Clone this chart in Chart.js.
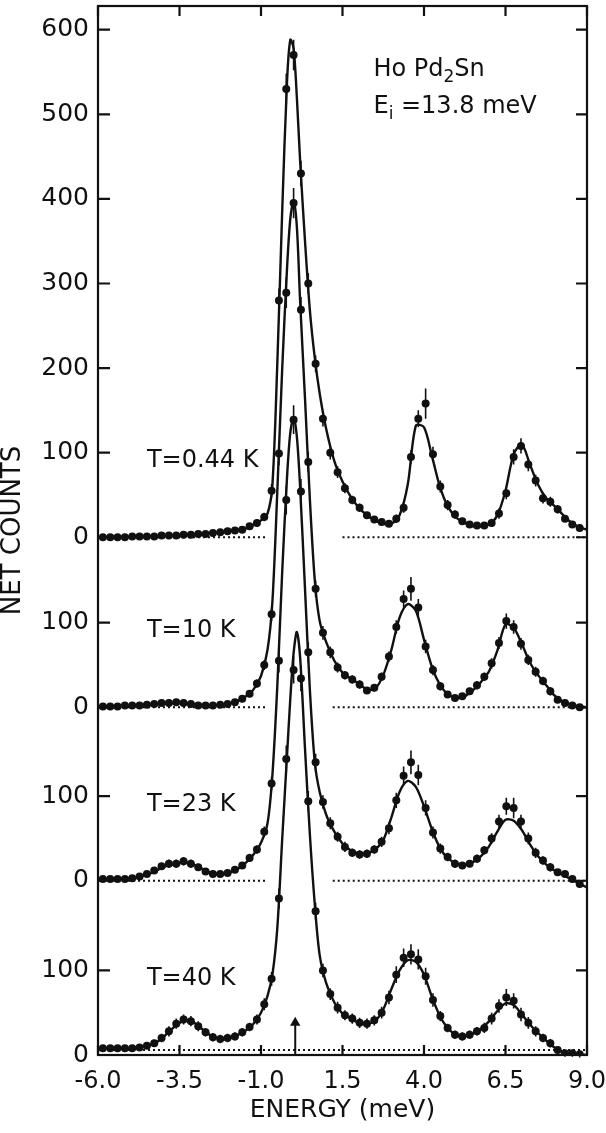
<!DOCTYPE html>
<html>
<head>
<meta charset="utf-8">
<script src="https://cdn.jsdelivr.net/npm/chart.js@4.4.1/dist/chart.umd.min.js"></script>
<style>
  html, body { margin: 0; padding: 0; background: #fff; }
  #wrap { width: 606px; height: 1133px; }
</style>
</head>
<body>
<div id="wrap"><canvas id="myChart" width="606" height="1133"></canvas></div>
<script>
// energy transfer of the measured points (meV), same for the four spectra
var energy = [-5.85,-5.625,-5.4,-5.175,-4.95,-4.725,-4.5,-4.275,-4.05,-3.825,
  -3.6,-3.375,-3.15,-2.925,-2.7,-2.475,-2.25,-2.025,-1.8,-1.575,
  -1.35,-1.125,-0.9,-0.675,-0.45,-0.225,0,0.225,0.45,0.675,
  0.9,1.125,1.35,1.575,1.8,2.025,2.25,2.475,2.7,2.925,
  3.15,3.375,3.6,3.825,4.05,4.275,4.5,4.725,4.95,5.175,
  5.4,5.625,5.85,6.075,6.3,6.525,6.75,6.975,7.2,7.425,
  7.65,7.875,8.1,8.325,8.55,8.775];

// net counts of each spectrum (before stacking)
var counts044 = [0,0,0,0,1,1,1,1,2,2, 2,3,3,4,4,5,6,7,8,9,
  13,17,24,55,280,530,570,430,300,205, 140,100,77,58,44,35,26,21,18,16,
  22,35,95,140,158,98,60,38,27,19, 15,14,14,17,28,52,95,108,86,67,
  46,42,33,22,15,11];
var counts10 = [1,1,1,2,2,2,3,4,5,5, 6,5,4,2,2,2,3,4,6,10,
  16,28,50,110,300,490,596,470,290,140, 88,65,47,38,33,27,20,23,36,60,
  95,128,140,118,72,44,25,15,11,13, 19,26,36,52,76,102,95,75,56,42,
  31,19,9,5,2,0];
var counts23 = [2,2,2,2,3,5,8,12,17,20, 20,23,20,16,11,8,8,9,13,18,
  27,37,58,115,260,450,545,460,270,140, 93,68,52,40,33,31,32,37,46,62,
  95,124,140,125,86,57,38,28,20,18, 20,26,36,50,70,88,86,70,50,33,
  24,16,10,8,2,-4];
var counts40 = [8,8,8,8,8,9,11,14,20,28, 37,42,40,34,27,21,19,20,22,27,
  33,42,60,90,185,350,455,445,300,170, 100,72,56,47,43,38,37,41,50,68,
  95,115,119,113,93,65,46,32,24,22, 24,28,32,43,58,68,64,48,38,28,
  20,14,6,2,2,1];

// half length of the error bars
var err044 = [3,3,3,3,3,3,3,3,3,3, 3,3,3,3,3,3,3,3,3,3, 4,4,5,8,14,18,18,15,12,10,
  9,8,7,6,5,5,4,4,4,4, 5,6,8,10,18,9,7,6,5,4, 4,4,4,5,6,7,9,9,8,7, 6,6,5,4,4,4];
var err10 = [3,3,3,3,3,3,3,3,3,3, 3,3,3,3,3,3,3,3,3,4, 4,5,6,8,14,18,18,15,12,10,
  8,7,6,5,5,5,4,4,5,6, 8,10,14,10,8,6,5,4,4,4, 4,5,5,6,7,9,8,7,6,6, 5,5,4,4,3,3];
var err23 = [3,3,3,3,3,3,3,4,4,5, 5,5,5,4,4,4,4,4,4,4, 5,5,6,8,14,17,17,15,12,10,
  8,7,6,6,5,5,5,5,6,7, 9,11,14,12,9,7,6,5,5,4, 4,5,5,6,8,10,12,8,7,6, 5,5,4,4,4,4];
var err40 = [3,3,3,3,3,3,4,4,5,6, 6,6,6,6,5,5,5,5,5,5, 5,6,7,8,12,16,16,15,12,10,
  8,7,7,6,6,6,6,6,7,8, 10,11,12,12,10,8,6,5,5,5, 5,5,6,7,8,10,9,8,7,6, 5,5,4,4,4,4];

// fitted curves
var fitEnergy = [-6,-5.5,-5,-4.5,-4.25,-4,-3.75,-3.5,-3.25,-3,-2.75,-2.5,-2.25,-2,-1.75,-1.5,-1.25,-1,
  -0.8,-0.65,-0.5,-0.35,-0.2,-0.1,0,0.1,0.2,0.35,0.5,0.65,0.8,1,
  1.25,1.5,1.75,2,2.25,2.5,2.75,3,3.25,3.5,3.75,4,4.25,4.5,4.75,5,
  5.25,5.5,5.75,6,6.25,6.5,6.75,7,7.25,7.5,7.75,8,8.25,8.5,8.75,9];
var fit044 = [0,0,0.5,1,1.2,1.5,2,2.5,3,3.5,4,5,6,7,8.5,10,14,20,
  28,62,205,385,540,588,578,520,445,350,268,212,170,128,
  90,66,48,35,26,20,16,16,26,62,132,130,95,58,35,23,
  17,13,13,15,26,55,98,110,86,62,46,37,27,18,12,9];
var fit10 = [1,1,2,3,3.5,4,5,5,5,3,2,2,3,4,7,12,20,37,
  68,125,255,400,520,578,598,568,480,365,245,150,102,77,
  55,41,34,28,21,22,38,68,106,122,114,80,47,26,15,11,
  13,20,30,43,67,98,94,75,53,38,26,14,7,3,1,0];
var fit23 = [2,2,3,7,11,16,19,21,21,18,13,9,8,9,13,20,30,45,
  68,125,230,365,478,530,547,525,465,345,225,140,105,78,
  58,44,36,32,32,37,48,75,105,118,111,88,60,38,26,20,
  19,22,29,41,58,72,71,60,43,29,19,12,7,2,-3,-8];
var fit40 = [8,8,8,11,14,21,30,38,41,37,29,22,19,19,23,28,36,50,
  70,95,150,255,355,422,475,500,470,362,260,178,118,85,
  62,49,43,38,37,40,54,78,100,112,110,95,68,45,31,23,
  22,25,31,40,52,61,59,48,36,26,17,9,4,2,1,0];

var temperatures = ['T=0.44 K', 'T=10 K', 'T=23 K', 'T=40 K'];
var offsets = [612, 411, 206, 0];
var panelTicks = [[0,100,200,300,400,500,600],[0,100],[0,100],[0,100]];
var baselineSegments = [[[-6,-0.85],[1.5,9]], [[-6,-0.85],[1.2,9]], [[-6,-0.85],[1.2,9]], [[-6,9]]];
var baselineLevel = [0, 0, 0, 6];
var arrowEnergy = 0.05;
var arrowCounts = [0, 38];

var spectra = [
  {counts: counts044, err: err044, fit: fit044},
  {counts: counts10, err: err10, fit: fit10},
  {counts: counts23, err: err23, fit: fit23},
  {counts: counts40, err: err40, fit: fit40}
];

var yTickValues = [], yTickLabels = {};
panelTicks.forEach(function(list, p) {
  list.forEach(function(t) {
    yTickValues.push(offsets[p] + t);
    yTickLabels[offsets[p] + t] = String(t);
  });
});

var pointSets = [], fitSets = [], baseSets = [];
spectra.forEach(function(s, p) {
  var off = offsets[p];
  pointSets.push({
    data: energy.map(function(e, i) { return {x: e, y: s.counts[i] + off}; }),
    errors: s.err,
    showLine: false,
    pointRadius: 4,
    pointBackgroundColor: '#111',
    pointBorderWidth: 0,
    borderColor: '#111'
  });
  fitSets.push({
    data: fitEnergy.map(function(e, i) { return {x: e, y: s.fit[i] + off}; }),
    borderColor: '#111',
    borderWidth: 2.4,
    pointRadius: 0,
    tension: 0.3
  });
  var base = [];
  baselineSegments[p].forEach(function(seg, j) {
    if (j > 0) base.push({x: seg[0], y: null});
    base.push({x: seg[0], y: baselineLevel[p] + off});
    base.push({x: seg[1], y: baselineLevel[p] + off});
  });
  baseSets.push({
    data: base,
    borderColor: '#111',
    borderWidth: 2,
    borderDash: [2, 3],
    pointRadius: 0,
    spanGaps: false
  });
});

var arrowSet = {
  data: [{x: arrowEnergy, y: arrowCounts[0]}, {x: arrowEnergy, y: arrowCounts[1]}],
  borderColor: '#111',
  borderWidth: 2,
  pointStyle: 'triangle',
  pointRadius: [0, 6],
  pointBackgroundColor: '#111',
  pointBorderWidth: 0
};

var errorBars = {
  id: 'errorBars',
  afterDatasetsDraw: function(chart) {
    var ctx = chart.ctx, ys = chart.scales.y, xs = chart.scales.x;
    ctx.save();
    ctx.strokeStyle = '#111';
    ctx.lineWidth = 1.6;
    chart.data.datasets.forEach(function(ds) {
      if (!ds.errors) return;
      ctx.beginPath();
      ds.data.forEach(function(pt, i) {
        var px = xs.getPixelForValue(pt.x);
        ctx.moveTo(px, ys.getPixelForValue(pt.y - ds.errors[i]));
        ctx.lineTo(px, ys.getPixelForValue(pt.y + ds.errors[i]));
      });
      ctx.stroke();
    });
    ctx.restore();
  }
};

function drawSub(ctx, parts, x, y) {
  parts.forEach(function(p) {
    ctx.font = p.sub ? '17px "DejaVu Sans"' : '24px "DejaVu Sans"';
    ctx.fillText(p.t, x, p.sub ? y + 8 : y);
    x += ctx.measureText(p.t).width;
  });
}

var framePlugin = {
  id: 'frame',
  afterDraw: function(chart) {
    var ctx = chart.ctx, a = chart.chartArea;
    var xs = chart.scales.x, ys = chart.scales.y;
    ctx.save();
    ctx.strokeStyle = '#111';
    ctx.lineWidth = 2.2;
    ctx.strokeRect(a.left, a.top, a.right - a.left, a.bottom - a.top);
    ctx.beginPath();
    xs.ticks.forEach(function(t) {
      var px = xs.getPixelForValue(t.value);
      ctx.moveTo(px, a.bottom); ctx.lineTo(px, a.bottom - 10);
      ctx.moveTo(px, a.top); ctx.lineTo(px, a.top + 10);
    });
    ys.ticks.forEach(function(t) {
      var py = ys.getPixelForValue(t.value);
      ctx.moveTo(a.left, py); ctx.lineTo(a.left + 12, py);
      ctx.moveTo(a.right, py); ctx.lineTo(a.right - 11, py);
    });
    ctx.stroke();

    ctx.fillStyle = '#111';
    ctx.textBaseline = 'middle';
    ctx.textAlign = 'left';
    ctx.font = '24px "DejaVu Sans"';
    temperatures.forEach(function(t, p) {
      ctx.fillText(t, xs.getPixelForValue(-4.5), ys.getPixelForValue(offsets[p] + 90));
    });
    drawSub(ctx, [{t: 'Ho Pd'}, {t: '2', sub: true}, {t: 'Sn'}],
      xs.getPixelForValue(2.45), ys.getPixelForValue(1165));
    drawSub(ctx, [{t: 'E'}, {t: 'i', sub: true}, {t: ' =13.8 meV'}],
      xs.getPixelForValue(2.45), ys.getPixelForValue(1121));
    ctx.restore();
  }
};

Chart.defaults.font.family = '"DejaVu Sans"';
Chart.defaults.color = '#111';

new Chart(document.getElementById('myChart'), {
  type: 'line',
  data: { datasets: pointSets.concat(fitSets, baseSets, [arrowSet]) },
  options: {
    responsive: false,
    animation: false,
    layout: { padding: { top: 2, right: 19, left: 0, bottom: 0 } },
    plugins: { legend: { display: false }, tooltip: { enabled: false } },
    scales: {
      x: {
        type: 'linear', min: -6, max: 9,
        grid: { display: false, drawTicks: false },
        border: { display: false },
        ticks: { stepSize: 2.5, padding: 12, maxRotation: 0, autoSkip: false,
          font: { size: 24 }, callback: function(v) { return v.toFixed(1); } },
        title: { display: true, text: 'ENERGY (meV)', font: { size: 25, lineHeight: 1 },
          padding: { top: 0, bottom: 10 } },
        afterFit: function(s) { s.height = 78; s.paddingLeft = 0; s.paddingRight = 0; }
      },
      y: {
        type: 'linear', min: 0, max: 1240,
        grid: { display: false, drawTicks: false },
        border: { display: false },
        afterBuildTicks: function(s) { s.ticks = yTickValues.map(function(v) { return {value: v}; }); },
        ticks: { padding: 9, font: { size: 25 },
          callback: function(v) { return yTickLabels[v]; } },
        title: { display: true, text: 'NET COUNTS', font: { size: 26, lineHeight: 1 },
          padding: { top: 0, bottom: 0 } },
        afterFit: function(s) { s.width = 98; s.paddingTop = 0; s.paddingBottom = 0; }
      }
    }
  },
  plugins: [errorBars, framePlugin]
});
</script>
</body>
</html>
